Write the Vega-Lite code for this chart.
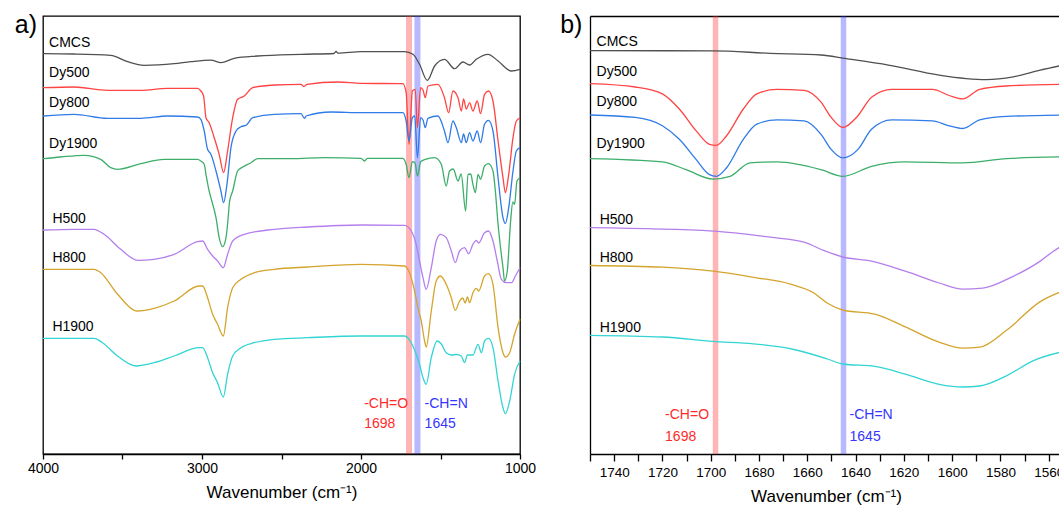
{
"$schema": "https://vega.github.io/schema/vega-lite/v6.json",
"padding": {"left": 14, "top": 12, "right": 0, "bottom": 0},
"spacing": 23,
"config": {"font": "Liberation Sans", "view": {"stroke": null}, "axis": {"grid": false, "domainColor": "black", "tickColor": "black", "labelColor": "black", "titleColor": "black", "titleFontWeight": "normal", "titleFont": "Liberation Sans", "labelFont": "Liberation Sans"}, "title": {"color": "black", "fontWeight": "normal", "font": "Liberation Sans"}},
"datasets": {
"bands": [{"s": "CHO", "wn": 1698}, {"s": "CHN", "wn": 1645}],
"annA": [{"t": "-CH=O", "s": "CHO", "wn": 1980, "v": 50.3}, {"t": "1698", "s": "CHO", "wn": 1980, "v": 29.7}, {"t": "-CH=N", "s": "CHN", "wn": 1600, "v": 50.3}, {"t": "1645", "s": "CHN", "wn": 1600, "v": 29.7}],
"annB": [{"t": "-CH=O", "s": "CHO", "wn": 1718.9, "v": 39.4}, {"t": "1698", "s": "CHO", "wn": 1718.9, "v": 17.5}, {"t": "-CH=N", "s": "CHN", "wn": 1642.5, "v": 39.4}, {"t": "1645", "s": "CHN", "wn": 1642.5, "v": 17.5}],
"labelsA": [{"s": "CMCS", "wn": 3962, "v": 411.3}, {"s": "Dy500", "wn": 3962, "v": 381.3}, {"s": "Dy800", "wn": 3962, "v": 351.3}, {"s": "Dy1900", "wn": 3962, "v": 310.3}, {"s": "H500", "wn": 3941, "v": 234.7}, {"s": "H800", "wn": 3941, "v": 195.7}, {"s": "H1900", "wn": 3941, "v": 127}],
"labelsB": [{"s": "CMCS", "wn": 1747.3, "v": 412.5}, {"s": "Dy500", "wn": 1747.3, "v": 382.2}, {"s": "Dy800", "wn": 1747.3, "v": 351.8}, {"s": "Dy1900", "wn": 1747.3, "v": 309.6}, {"s": "H500", "wn": 1746, "v": 233.7}, {"s": "H800", "wn": 1746, "v": 196.3}, {"s": "H1900", "wn": 1746, "v": 126.1}],
"specA": [
{"s":"CMCS","wn":4000,"v":400.3},{"s":"CMCS","wn":3805,"v":400},{"s":"CMCS","wn":3574,"v":398.7},{"s":"CMCS","wn":3468,"v":392.3},{"s":"CMCS","wn":3364,"v":388.7},{"s":"CMCS","wn":3175,"v":390.3},{"s":"CMCS","wn":3070,"v":392.3},{"s":"CMCS","wn":2944,"v":393.8},{"s":"CMCS","wn":2881,"v":391.3},{"s":"CMCS","wn":2797,"v":395.7},{"s":"CMCS","wn":2650,"v":398},{"s":"CMCS","wn":2377,"v":399.7},{"s":"CMCS","wn":2170,"v":400.5},{"s":"CMCS","wn":2157,"v":402.5},{"s":"CMCS","wn":2145,"v":400.8},{"s":"CMCS","wn":2000,"v":402.3},{"s":"CMCS","wn":1726,"v":402.3},{"s":"CMCS","wn":1673,"v":399.7},{"s":"CMCS","wn":1632,"v":389.7},{"s":"CMCS","wn":1583,"v":373.7},{"s":"CMCS","wn":1537,"v":388},{"s":"CMCS","wn":1475,"v":394.7},{"s":"CMCS","wn":1411,"v":385.3},{"s":"CMCS","wn":1359,"v":392},{"s":"CMCS","wn":1317,"v":389},{"s":"CMCS","wn":1275,"v":394.7},{"s":"CMCS","wn":1201,"v":399.7},{"s":"CMCS","wn":1138,"v":393},{"s":"CMCS","wn":1054,"v":383},{"s":"CMCS","wn":1000,"v":384.7},
{"s":"Dy500","wn":4000,"v":366.3},{"s":"Dy500","wn":3805,"v":367},{"s":"Dy500","wn":3594,"v":363.7},{"s":"Dy500","wn":3385,"v":363.7},{"s":"Dy500","wn":3217,"v":365.7},{"s":"Dy500","wn":3028,"v":365.7},{"s":"Dy500","wn":3007,"v":363},{"s":"Dy500","wn":2990,"v":358},{"s":"Dy500","wn":2975,"v":336.3},{"s":"Dy500","wn":2955,"v":331.3},{"s":"Dy500","wn":2923,"v":316.3},{"s":"Dy500","wn":2892,"v":299.7},{"s":"Dy500","wn":2864,"v":281.3},{"s":"Dy500","wn":2839,"v":303},{"s":"Dy500","wn":2807,"v":336.3},{"s":"Dy500","wn":2776,"v":354.7},{"s":"Dy500","wn":2734,"v":358},{"s":"Dy500","wn":2681,"v":366.3},{"s":"Dy500","wn":2545,"v":369},{"s":"Dy500","wn":2377,"v":369.7},{"s":"Dy500","wn":2360,"v":367.5},{"s":"Dy500","wn":2340,"v":369.7},{"s":"Dy500","wn":2146,"v":372},{"s":"Dy500","wn":2000,"v":370.7},{"s":"Dy500","wn":1737,"v":370.3},{"s":"Dy500","wn":1716,"v":361.3},{"s":"Dy500","wn":1698,"v":309.7},{"s":"Dy500","wn":1677,"v":363},{"s":"Dy500","wn":1659,"v":364.7},{"s":"Dy500","wn":1645,"v":326.3},{"s":"Dy500","wn":1625,"v":366.3},{"s":"Dy500","wn":1610,"v":364},{"s":"Dy500","wn":1596,"v":356.3},{"s":"Dy500","wn":1579,"v":368},{"s":"Dy500","wn":1516,"v":369.7},{"s":"Dy500","wn":1475,"v":356.3},{"s":"Dy500","wn":1449,"v":341.3},{"s":"Dy500","wn":1422,"v":363},{"s":"Dy500","wn":1390,"v":356.3},{"s":"Dy500","wn":1369,"v":343},{"s":"Dy500","wn":1355,"v":355},{"s":"Dy500","wn":1338,"v":345},{"s":"Dy500","wn":1317,"v":351.3},{"s":"Dy500","wn":1296,"v":343},{"s":"Dy500","wn":1269,"v":353},{"s":"Dy500","wn":1248,"v":340.3},{"s":"Dy500","wn":1223,"v":359.7},{"s":"Dy500","wn":1198,"v":363},{"s":"Dy500","wn":1170,"v":353},{"s":"Dy500","wn":1138,"v":313},{"s":"Dy500","wn":1107,"v":276.3},{"s":"Dy500","wn":1092,"v":261.3},{"s":"Dy500","wn":1071,"v":279.7},{"s":"Dy500","wn":1044,"v":316.3},{"s":"Dy500","wn":1023,"v":333},{"s":"Dy500","wn":1000,"v":336},
{"s":"Dy800","wn":4000,"v":338},{"s":"Dy800","wn":3805,"v":339.7},{"s":"Dy800","wn":3594,"v":335.7},{"s":"Dy800","wn":3385,"v":335.7},{"s":"Dy800","wn":3217,"v":338},{"s":"Dy800","wn":3028,"v":337},{"s":"Dy800","wn":3007,"v":334.7},{"s":"Dy800","wn":2986,"v":323},{"s":"Dy800","wn":2965,"v":304.7},{"s":"Dy800","wn":2944,"v":299.7},{"s":"Dy800","wn":2912,"v":283},{"s":"Dy800","wn":2881,"v":263},{"s":"Dy800","wn":2864,"v":251.3},{"s":"Dy800","wn":2843,"v":269.7},{"s":"Dy800","wn":2818,"v":306.3},{"s":"Dy800","wn":2786,"v":323},{"s":"Dy800","wn":2755,"v":327.3},{"s":"Dy800","wn":2723,"v":328.7},{"s":"Dy800","wn":2681,"v":336.3},{"s":"Dy800","wn":2545,"v":339.7},{"s":"Dy800","wn":2377,"v":340.3},{"s":"Dy800","wn":2356,"v":335.7},{"s":"Dy800","wn":2345,"v":338},{"s":"Dy800","wn":2188,"v":342},{"s":"Dy800","wn":2000,"v":341.3},{"s":"Dy800","wn":1737,"v":341.3},{"s":"Dy800","wn":1716,"v":333},{"s":"Dy800","wn":1698,"v":313},{"s":"Dy800","wn":1677,"v":336.3},{"s":"Dy800","wn":1662,"v":338},{"s":"Dy800","wn":1645,"v":296.3},{"s":"Dy800","wn":1625,"v":336.3},{"s":"Dy800","wn":1610,"v":334},{"s":"Dy800","wn":1596,"v":326.3},{"s":"Dy800","wn":1579,"v":335.7},{"s":"Dy800","wn":1516,"v":338},{"s":"Dy800","wn":1475,"v":323},{"s":"Dy800","wn":1453,"v":311.3},{"s":"Dy800","wn":1422,"v":333},{"s":"Dy800","wn":1400,"v":326},{"s":"Dy800","wn":1369,"v":311.3},{"s":"Dy800","wn":1355,"v":320},{"s":"Dy800","wn":1338,"v":311.3},{"s":"Dy800","wn":1317,"v":321.3},{"s":"Dy800","wn":1296,"v":313},{"s":"Dy800","wn":1269,"v":323},{"s":"Dy800","wn":1248,"v":311.3},{"s":"Dy800","wn":1223,"v":329.7},{"s":"Dy800","wn":1198,"v":333.7},{"s":"Dy800","wn":1170,"v":323},{"s":"Dy800","wn":1138,"v":276.3},{"s":"Dy800","wn":1107,"v":236.3},{"s":"Dy800","wn":1092,"v":230.3},{"s":"Dy800","wn":1071,"v":246.3},{"s":"Dy800","wn":1044,"v":283},{"s":"Dy800","wn":1023,"v":303},{"s":"Dy800","wn":1000,"v":306.3},
{"s":"Dy1900","wn":4000,"v":295.3},{"s":"Dy1900","wn":3889,"v":297},{"s":"Dy1900","wn":3742,"v":298.7},{"s":"Dy1900","wn":3637,"v":294.7},{"s":"Dy1900","wn":3574,"v":286.3},{"s":"Dy1900","wn":3531,"v":284.7},{"s":"Dy1900","wn":3385,"v":290.3},{"s":"Dy1900","wn":3238,"v":294.7},{"s":"Dy1900","wn":3028,"v":294.7},{"s":"Dy1900","wn":3007,"v":293},{"s":"Dy1900","wn":2986,"v":289.7},{"s":"Dy1900","wn":2975,"v":279.7},{"s":"Dy1900","wn":2955,"v":263},{"s":"Dy1900","wn":2944,"v":256.3},{"s":"Dy1900","wn":2912,"v":236.3},{"s":"Dy1900","wn":2892,"v":216.3},{"s":"Dy1900","wn":2870,"v":207.3},{"s":"Dy1900","wn":2849,"v":216.3},{"s":"Dy1900","wn":2839,"v":230},{"s":"Dy1900","wn":2826,"v":253},{"s":"Dy1900","wn":2807,"v":263},{"s":"Dy1900","wn":2776,"v":283},{"s":"Dy1900","wn":2744,"v":287},{"s":"Dy1900","wn":2692,"v":291.3},{"s":"Dy1900","wn":2650,"v":295.3},{"s":"Dy1900","wn":2440,"v":295.3},{"s":"Dy1900","wn":2230,"v":296.3},{"s":"Dy1900","wn":2000,"v":295.7},{"s":"Dy1900","wn":1978,"v":293},{"s":"Dy1900","wn":1960,"v":295.7},{"s":"Dy1900","wn":1737,"v":295.7},{"s":"Dy1900","wn":1716,"v":289.7},{"s":"Dy1900","wn":1698,"v":276.3},{"s":"Dy1900","wn":1677,"v":292.3},{"s":"Dy1900","wn":1660,"v":291},{"s":"Dy1900","wn":1645,"v":278},{"s":"Dy1900","wn":1625,"v":292.3},{"s":"Dy1900","wn":1596,"v":294.7},{"s":"Dy1900","wn":1537,"v":296.3},{"s":"Dy1900","wn":1495,"v":289.7},{"s":"Dy1900","wn":1464,"v":268},{"s":"Dy1900","wn":1443,"v":283},{"s":"Dy1900","wn":1420,"v":285},{"s":"Dy1900","wn":1390,"v":273},{"s":"Dy1900","wn":1370,"v":280},{"s":"Dy1900","wn":1342,"v":243},{"s":"Dy1900","wn":1327,"v":279.7},{"s":"Dy1900","wn":1310,"v":280},{"s":"Dy1900","wn":1296,"v":269.7},{"s":"Dy1900","wn":1281,"v":261.3},{"s":"Dy1900","wn":1264,"v":279.7},{"s":"Dy1900","wn":1248,"v":274.7},{"s":"Dy1900","wn":1223,"v":288},{"s":"Dy1900","wn":1198,"v":290.3},{"s":"Dy1900","wn":1170,"v":283},{"s":"Dy1900","wn":1155,"v":263},{"s":"Dy1900","wn":1138,"v":229.7},{"s":"Dy1900","wn":1125,"v":210},{"s":"Dy1900","wn":1107,"v":186.3},{"s":"Dy1900","wn":1097,"v":173},{"s":"Dy1900","wn":1080,"v":183},{"s":"Dy1900","wn":1059,"v":233},{"s":"Dy1900","wn":1045,"v":252},{"s":"Dy1900","wn":1034,"v":249.7},{"s":"Dy1900","wn":1019,"v":273},{"s":"Dy1900","wn":1000,"v":276.3},
{"s":"H500","wn":4000,"v":224},{"s":"H500","wn":3805,"v":224.7},{"s":"H500","wn":3679,"v":224.7},{"s":"H500","wn":3616,"v":219.7},{"s":"H500","wn":3511,"v":204.7},{"s":"H500","wn":3405,"v":193.7},{"s":"H500","wn":3301,"v":194.7},{"s":"H500","wn":3175,"v":199.7},{"s":"H500","wn":3028,"v":212.3},{"s":"H500","wn":2996,"v":213},{"s":"H500","wn":2965,"v":204.7},{"s":"H500","wn":2933,"v":198},{"s":"H500","wn":2902,"v":193},{"s":"H500","wn":2866,"v":186.3},{"s":"H500","wn":2839,"v":199.7},{"s":"H500","wn":2807,"v":213},{"s":"H500","wn":2734,"v":219.7},{"s":"H500","wn":2545,"v":224.7},{"s":"H500","wn":2335,"v":227},{"s":"H500","wn":2000,"v":229},{"s":"H500","wn":1726,"v":228.7},{"s":"H500","wn":1684,"v":223},{"s":"H500","wn":1653,"v":209.7},{"s":"H500","wn":1632,"v":193},{"s":"H500","wn":1610,"v":176.3},{"s":"H500","wn":1590,"v":164.7},{"s":"H500","wn":1558,"v":186.3},{"s":"H500","wn":1527,"v":213},{"s":"H500","wn":1500,"v":219.7},{"s":"H500","wn":1464,"v":216.3},{"s":"H500","wn":1432,"v":203},{"s":"H500","wn":1407,"v":191.3},{"s":"H500","wn":1380,"v":203},{"s":"H500","wn":1349,"v":206.3},{"s":"H500","wn":1323,"v":200.3},{"s":"H500","wn":1296,"v":209.7},{"s":"H500","wn":1275,"v":213.7},{"s":"H500","wn":1260,"v":211},{"s":"H500","wn":1223,"v":221.3},{"s":"H500","wn":1198,"v":223},{"s":"H500","wn":1170,"v":213},{"s":"H500","wn":1143,"v":193},{"s":"H500","wn":1117,"v":174.7},{"s":"H500","wn":1086,"v":171.3},{"s":"H500","wn":1054,"v":171.3},{"s":"H500","wn":1029,"v":178},{"s":"H500","wn":1000,"v":186.3},
{"s":"H800","wn":4000,"v":184.7},{"s":"H800","wn":3679,"v":184.7},{"s":"H800","wn":3637,"v":181.3},{"s":"H800","wn":3531,"v":159.7},{"s":"H800","wn":3405,"v":143},{"s":"H800","wn":3301,"v":145.7},{"s":"H800","wn":3175,"v":153},{"s":"H800","wn":3018,"v":168},{"s":"H800","wn":2996,"v":168},{"s":"H800","wn":2965,"v":156.3},{"s":"H800","wn":2933,"v":139.7},{"s":"H800","wn":2902,"v":129.7},{"s":"H800","wn":2866,"v":118},{"s":"H800","wn":2839,"v":146.3},{"s":"H800","wn":2807,"v":166.3},{"s":"H800","wn":2755,"v":174.7},{"s":"H800","wn":2671,"v":181.3},{"s":"H800","wn":2545,"v":184.7},{"s":"H800","wn":2335,"v":187},{"s":"H800","wn":2000,"v":189.7},{"s":"H800","wn":1726,"v":188},{"s":"H800","wn":1695,"v":181.3},{"s":"H800","wn":1663,"v":163},{"s":"H800","wn":1642,"v":146.3},{"s":"H800","wn":1621,"v":133},{"s":"H800","wn":1600,"v":113},{"s":"H800","wn":1590,"v":107},{"s":"H800","wn":1558,"v":143},{"s":"H800","wn":1527,"v":173},{"s":"H800","wn":1500,"v":178},{"s":"H800","wn":1464,"v":169.7},{"s":"H800","wn":1432,"v":156.3},{"s":"H800","wn":1407,"v":143.7},{"s":"H800","wn":1380,"v":153},{"s":"H800","wn":1360,"v":156},{"s":"H800","wn":1345,"v":151},{"s":"H800","wn":1330,"v":157},{"s":"H800","wn":1317,"v":151.3},{"s":"H800","wn":1296,"v":161.3},{"s":"H800","wn":1275,"v":165.7},{"s":"H800","wn":1260,"v":163},{"s":"H800","wn":1223,"v":178},{"s":"H800","wn":1198,"v":180.3},{"s":"H800","wn":1170,"v":169.7},{"s":"H800","wn":1138,"v":126.3},{"s":"H800","wn":1107,"v":101.3},{"s":"H800","wn":1092,"v":97},{"s":"H800","wn":1065,"v":101.3},{"s":"H800","wn":1034,"v":119.7},{"s":"H800","wn":1000,"v":134.7},
{"s":"H1900","wn":4000,"v":115.7},{"s":"H1900","wn":3679,"v":115.7},{"s":"H1900","wn":3626,"v":111.3},{"s":"H1900","wn":3531,"v":98},{"s":"H1900","wn":3416,"v":88},{"s":"H1900","wn":3301,"v":91.3},{"s":"H1900","wn":3175,"v":98},{"s":"H1900","wn":3018,"v":106.3},{"s":"H1900","wn":2996,"v":106.3},{"s":"H1900","wn":2965,"v":96.3},{"s":"H1900","wn":2933,"v":81.3},{"s":"H1900","wn":2902,"v":71.3},{"s":"H1900","wn":2866,"v":57},{"s":"H1900","wn":2839,"v":79.7},{"s":"H1900","wn":2807,"v":98},{"s":"H1900","wn":2755,"v":106.3},{"s":"H1900","wn":2671,"v":111.3},{"s":"H1900","wn":2545,"v":114.7},{"s":"H1900","wn":2335,"v":116.3},{"s":"H1900","wn":2000,"v":118},{"s":"H1900","wn":1726,"v":118},{"s":"H1900","wn":1684,"v":111.3},{"s":"H1900","wn":1653,"v":99.7},{"s":"H1900","wn":1632,"v":89.7},{"s":"H1900","wn":1610,"v":76.3},{"s":"H1900","wn":1590,"v":69.7},{"s":"H1900","wn":1558,"v":96.3},{"s":"H1900","wn":1521,"v":113},{"s":"H1900","wn":1495,"v":110},{"s":"H1900","wn":1464,"v":101.3},{"s":"H1900","wn":1432,"v":99},{"s":"H1900","wn":1400,"v":99.5},{"s":"H1900","wn":1369,"v":98},{"s":"H1900","wn":1349,"v":91.3},{"s":"H1900","wn":1330,"v":99},{"s":"H1900","wn":1296,"v":99},{"s":"H1900","wn":1264,"v":109.7},{"s":"H1900","wn":1243,"v":101.3},{"s":"H1900","wn":1223,"v":113},{"s":"H1900","wn":1198,"v":115.7},{"s":"H1900","wn":1170,"v":106.3},{"s":"H1900","wn":1138,"v":73},{"s":"H1900","wn":1107,"v":46.3},{"s":"H1900","wn":1092,"v":40.3},{"s":"H1900","wn":1065,"v":53},{"s":"H1900","wn":1034,"v":79.7},{"s":"H1900","wn":1000,"v":93}
],
"specB": [
{"s":"CMCS","wn":1750,"v":403.4},{"s":"CMCS","wn":1699,"v":403.1},{"s":"CMCS","wn":1675.3,"v":400.7},{"s":"CMCS","wn":1654.3,"v":399},{"s":"CMCS","wn":1644.6,"v":395.6},{"s":"CMCS","wn":1626.4,"v":388.9},{"s":"CMCS","wn":1605.4,"v":378.8},{"s":"CMCS","wn":1594.2,"v":375.4},{"s":"CMCS","wn":1585.9,"v":374.4},{"s":"CMCS","wn":1574.7,"v":377.1},{"s":"CMCS","wn":1563.5,"v":383.8},{"s":"CMCS","wn":1554,"v":388.9},
{"s":"Dy500","wn":1750,"v":370.3},{"s":"Dy500","wn":1731.2,"v":367},{"s":"Dy500","wn":1720,"v":360.2},{"s":"Dy500","wn":1713,"v":345},{"s":"Dy500","wn":1706,"v":323.1},{"s":"Dy500","wn":1700.5,"v":309.6},{"s":"Dy500","wn":1697.7,"v":308.6},{"s":"Dy500","wn":1693.5,"v":318},{"s":"Dy500","wn":1686.5,"v":345},{"s":"Dy500","wn":1680.9,"v":360.2},{"s":"Dy500","wn":1672.5,"v":364.6},{"s":"Dy500","wn":1661.3,"v":363.6},{"s":"Dy500","wn":1654.3,"v":351.8},{"s":"Dy500","wn":1650.1,"v":336.6},{"s":"Dy500","wn":1645.3,"v":326.5},{"s":"Dy500","wn":1639,"v":338.3},{"s":"Dy500","wn":1633.4,"v":356.8},{"s":"Dy500","wn":1625,"v":364.6},{"s":"Dy500","wn":1608.2,"v":364.6},{"s":"Dy500","wn":1601.2,"v":358.5},{"s":"Dy500","wn":1595.6,"v":355.2},{"s":"Dy500","wn":1588.6,"v":364.6},{"s":"Dy500","wn":1577.5,"v":368},{"s":"Dy500","wn":1554,"v":369.7},
{"s":"Dy800","wn":1750,"v":339},{"s":"Dy800","wn":1731.2,"v":336.6},{"s":"Dy800","wn":1720,"v":328.2},{"s":"Dy800","wn":1713,"v":314.7},{"s":"Dy800","wn":1706,"v":294.4},{"s":"Dy800","wn":1700.5,"v":279.3},{"s":"Dy800","wn":1697.7,"v":277.6},{"s":"Dy800","wn":1693.5,"v":286},{"s":"Dy800","wn":1686.5,"v":314.7},{"s":"Dy800","wn":1680.9,"v":329.9},{"s":"Dy800","wn":1672.5,"v":334.2},{"s":"Dy800","wn":1661.3,"v":333.2},{"s":"Dy800","wn":1654.3,"v":319.7},{"s":"Dy800","wn":1650.1,"v":304.6},{"s":"Dy800","wn":1645.3,"v":296.1},{"s":"Dy800","wn":1639,"v":304.6},{"s":"Dy800","wn":1633.4,"v":324.8},{"s":"Dy800","wn":1625,"v":334.2},{"s":"Dy800","wn":1608.2,"v":333.2},{"s":"Dy800","wn":1601.2,"v":328.2},{"s":"Dy800","wn":1595.6,"v":325.5},{"s":"Dy800","wn":1588.6,"v":334.2},{"s":"Dy800","wn":1577.5,"v":337.6},{"s":"Dy800","wn":1554,"v":339},
{"s":"Dy1900","wn":1750,"v":295.4},{"s":"Dy1900","wn":1720,"v":292.1},{"s":"Dy1900","wn":1710.2,"v":284.3},{"s":"Dy1900","wn":1699,"v":274.9},{"s":"Dy1900","wn":1692,"v":277.6},{"s":"Dy1900","wn":1683.7,"v":291.1},{"s":"Dy1900","wn":1672.5,"v":292.1},{"s":"Dy1900","wn":1654.3,"v":284.3},{"s":"Dy1900","wn":1645.3,"v":277.6},{"s":"Dy1900","wn":1633.4,"v":287.7},{"s":"Dy1900","wn":1619.4,"v":292.1},{"s":"Dy1900","wn":1595.6,"v":291.1},{"s":"Dy1900","wn":1577.5,"v":295.4},{"s":"Dy1900","wn":1554,"v":297.1},
{"s":"H500","wn":1750,"v":226.3},{"s":"H500","wn":1699,"v":222.9},{"s":"H500","wn":1675.3,"v":216.8},{"s":"H500","wn":1661.3,"v":211.8},{"s":"H500","wn":1653,"v":203.3},{"s":"H500","wn":1645.3,"v":197},{"s":"H500","wn":1633.4,"v":192.9},{"s":"H500","wn":1619.4,"v":182.8},{"s":"H500","wn":1605.4,"v":171},{"s":"H500","wn":1595.6,"v":164.9},{"s":"H500","wn":1587.3,"v":165.9},{"s":"H500","wn":1574.7,"v":177.7},{"s":"H500","wn":1563.5,"v":192.9},{"s":"H500","wn":1557.9,"v":203},{"s":"H500","wn":1554,"v":209},
{"s":"H800","wn":1750,"v":188.5},{"s":"H800","wn":1720,"v":186.8},{"s":"H800","wn":1699,"v":182.8},{"s":"H800","wn":1682.3,"v":176.7},{"s":"H800","wn":1666.9,"v":169.9},{"s":"H800","wn":1657.1,"v":160.8},{"s":"H800","wn":1651.6,"v":150.7},{"s":"H800","wn":1645.3,"v":144},{"s":"H800","wn":1632,"v":139.9},{"s":"H800","wn":1619.4,"v":127.1},{"s":"H800","wn":1605.4,"v":111.9},{"s":"H800","wn":1595.6,"v":105.8},{"s":"H800","wn":1588.6,"v":106.8},{"s":"H800","wn":1577.5,"v":123.7},{"s":"H800","wn":1563.5,"v":152.4},{"s":"H800","wn":1554,"v":163.2},
{"s":"H1900","wn":1750,"v":118.7},{"s":"H1900","wn":1720,"v":117},{"s":"H1900","wn":1699,"v":112.6},{"s":"H1900","wn":1682.3,"v":110.2},{"s":"H1900","wn":1665.5,"v":104.5},{"s":"H1900","wn":1651.6,"v":95},{"s":"H1900","wn":1645.3,"v":90},{"s":"H1900","wn":1632,"v":87.6},{"s":"H1900","wn":1619.4,"v":79.9},{"s":"H1900","wn":1605.4,"v":69.7},{"s":"H1900","wn":1595.6,"v":67},{"s":"H1900","wn":1588.6,"v":68},{"s":"H1900","wn":1577.5,"v":78.2},{"s":"H1900","wn":1566.3,"v":93.4},{"s":"H1900","wn":1554,"v":102.5}
]
},
"hconcat": [
{
"width": 477, "height": 438,
"view": {"stroke": "black", "strokeWidth": 1.3},
"title": {"text": "a)", "orient": "left", "anchor": "end", "angle": 0, "align": "left", "baseline": "top", "fontSize": 25, "offset": -9.6},
"layer": [
{"data": {"name": "bands"}, "mark": {"type": "rule", "strokeWidth": 6, "opacity": 0.35},
 "encoding": {
  "x": {"field": "wn", "type": "quantitative", "scale": {"domain": [1000, 4000], "reverse": true, "nice": false, "zero": false},
   "axis": {"title": "Wavenumber (cm⁻¹)", "titleFontSize": 17, "titlePadding": 9, "labelFontSize": 14, "labelPadding": 2, "tickSize": 5, "tickWidth": 1.3, "domainWidth": 1.3, "labelFlush": false, "labelOverlap": false, "values": [1000, 1500, 2000, 2500, 3000, 3500, 4000], "labelExpr": "datum.value % 1000 === 0 ? format(datum.value, 'd') : ''", "encode": {"ticks": {"update": {"y2": {"signal": "datum.value % 1000 === 0 ? 5 : 3"}}}}}},
  "color": {"field": "s", "type": "nominal", "legend": null, "scale": {"domain": ["CMCS","Dy500","Dy800","Dy1900","H500","H800","H1900","CHO","CHN"], "range": ["#505050","#ff4444","#2f7be8","#3cae6a","#b47fec","#d4a42c","#33d4d4","#ff2b2b","#3535ff"]}}
 }},
{"data": {"name": "specA"}, "mark": {"type": "line", "strokeWidth": 1.3, "interpolate": "monotone"},
 "encoding": {
  "x": {"field": "wn", "type": "quantitative"},
  "y": {"field": "v", "type": "quantitative", "scale": {"domain": [0, 438], "nice": false, "zero": false}, "axis": null},
  "color": {"field": "s", "type": "nominal", "legend": null, "scale": {"domain": ["CMCS","Dy500","Dy800","Dy1900","H500","H800","H1900","CHO","CHN"], "range": ["#505050","#ff4444","#2f7be8","#3cae6a","#b47fec","#d4a42c","#33d4d4","#ff2b2b","#3535ff"]}}
 }},
{"data": {"name": "labelsA"}, "mark": {"type": "text", "align": "left", "baseline": "middle", "fontSize": 14, "color": "black"},
 "encoding": {
  "x": {"field": "wn", "type": "quantitative"},
  "y": {"field": "v", "type": "quantitative"},
  "text": {"field": "s"}
 }},
{"data": {"name": "annA"}, "mark": {"type": "text", "align": "left", "baseline": "middle", "fontSize": 14},
 "encoding": {
  "x": {"field": "wn", "type": "quantitative"},
  "y": {"field": "v", "type": "quantitative"},
  "text": {"field": "t"},
  "color": {"field": "s", "type": "nominal", "legend": null, "scale": {"domain": ["CMCS","Dy500","Dy800","Dy1900","H500","H800","H1900","CHO","CHN"], "range": ["#505050","#ff4444","#2f7be8","#3cae6a","#b47fec","#d4a42c","#33d4d4","#ff2b2b","#3535ff"]}}
 }}
]
},
{
"width": 472, "height": 438,
"view": {"stroke": null},
"title": {"text": "b)", "orient": "left", "anchor": "end", "angle": 0, "align": "left", "baseline": "top", "fontSize": 25, "offset": 5},
"resolve": {"axis": {"x": "independent"}},
"layer": [
{"data": {"name": "bands"}, "mark": {"type": "rule", "strokeWidth": 5.5, "opacity": 0.35},
 "encoding": {
  "x": {"field": "wn", "type": "quantitative", "scale": {"domain": [1554.5, 1750], "reverse": true, "nice": false, "zero": false}, "axis": null},
  "color": {"field": "s", "type": "nominal", "legend": null, "scale": {"domain": ["CMCS","Dy500","Dy800","Dy1900","H500","H800","H1900","CHO","CHN"], "range": ["#505050","#ff4444","#2f7be8","#3cae6a","#b47fec","#d4a42c","#33d4d4","#ff2b2b","#3535ff"]}}
 }},
{"data": {"name": "specB"}, "mark": {"type": "line", "strokeWidth": 1.3, "interpolate": "monotone"},
 "encoding": {
  "x": {"field": "wn", "type": "quantitative",
   "axis": {"orient": "bottom", "title": "Wavenumber (cm⁻¹)", "titleFontSize": 17, "titlePadding": 10, "labelFontSize": 13.5, "labelPadding": 4, "tickSize": 7, "tickWidth": 1.3, "domainWidth": 1.3, "labelFlush": false, "labelOverlap": false, "values": [1560, 1570, 1580, 1590, 1600, 1610, 1620, 1630, 1640, 1650, 1660, 1670, 1680, 1690, 1700, 1710, 1720, 1730, 1740, 1750], "labelExpr": "datum.value % 20 === 0 && datum.value < 1750 ? format(datum.value, 'd') : ''", "encode": {"ticks": {"update": {"y2": {"signal": "datum.value % 20 === 0 ? 7 : 4"}}}}}},
  "y": {"field": "v", "type": "quantitative", "scale": {"domain": [0, 438], "nice": false, "zero": false}, "axis": {"orient": "left", "labels": false, "ticks": false, "title": null, "domain": true, "domainWidth": 1.3, "domainColor": "black"}},
  "color": {"field": "s", "type": "nominal", "legend": null, "scale": {"domain": ["CMCS","Dy500","Dy800","Dy1900","H500","H800","H1900","CHO","CHN"], "range": ["#505050","#ff4444","#2f7be8","#3cae6a","#b47fec","#d4a42c","#33d4d4","#ff2b2b","#3535ff"]}}
 }},
{"data": {"name": "labelsB"}, "mark": {"type": "text", "align": "left", "baseline": "middle", "fontSize": 14, "color": "black"},
 "encoding": {
  "x": {"field": "wn", "type": "quantitative", "axis": {"orient": "top", "labels": false, "ticks": false, "title": null, "domain": true, "domainWidth": 1.3, "domainColor": "black"}},
  "y": {"field": "v", "type": "quantitative"},
  "text": {"field": "s"}
 }},
{"data": {"name": "annB"}, "mark": {"type": "text", "align": "left", "baseline": "middle", "fontSize": 14},
 "encoding": {
  "x": {"field": "wn", "type": "quantitative", "axis": null},
  "y": {"field": "v", "type": "quantitative"},
  "text": {"field": "t"},
  "color": {"field": "s", "type": "nominal", "legend": null, "scale": {"domain": ["CMCS","Dy500","Dy800","Dy1900","H500","H800","H1900","CHO","CHN"], "range": ["#505050","#ff4444","#2f7be8","#3cae6a","#b47fec","#d4a42c","#33d4d4","#ff2b2b","#3535ff"]}}
 }}
]
}
]
}
